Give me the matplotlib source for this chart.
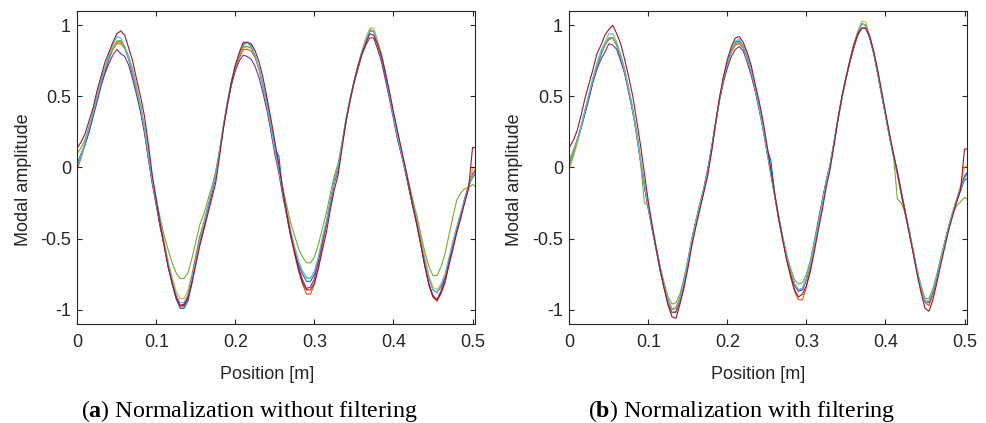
import matplotlib
matplotlib.use("Agg")
import matplotlib.pyplot as plt
import numpy as np

plt.rcParams['font.family'] = ['Liberation Sans', 'DejaVu Sans']
plt.rcParams['axes.unicode_minus'] = False
plt.rcParams['mathtext.fontset'] = 'custom'
plt.rcParams['mathtext.rm'] = 'Liberation Serif'
plt.rcParams['mathtext.bf'] = 'Liberation Serif:bold'

# ---------------- data ----------------
position = [
    0.000, 0.005, 0.010, 0.015, 0.020, 0.025, 0.030, 0.035, 0.040, 0.045,
    0.050, 0.055, 0.060, 0.065, 0.070, 0.075, 0.080, 0.085, 0.090, 0.095,
    0.100, 0.105, 0.110, 0.115, 0.120, 0.125, 0.130, 0.135, 0.140, 0.145,
    0.150, 0.155, 0.160, 0.165, 0.170, 0.175, 0.180, 0.185, 0.190, 0.195,
    0.200, 0.205, 0.210, 0.215, 0.220, 0.225, 0.230, 0.235, 0.240, 0.245,
    0.250, 0.255, 0.260, 0.265, 0.270, 0.275, 0.280, 0.285, 0.290, 0.295,
    0.300, 0.305, 0.310, 0.315, 0.320, 0.325, 0.330, 0.335, 0.340, 0.345,
    0.350, 0.355, 0.360, 0.365, 0.370, 0.375, 0.380, 0.385, 0.390, 0.395,
    0.400, 0.405, 0.410, 0.415, 0.420, 0.425, 0.430, 0.435, 0.440, 0.445,
    0.450, 0.455, 0.460, 0.465, 0.470, 0.475, 0.480, 0.485, 0.490, 0.495,
    0.500, 0.503]

# bundle centre, panel (a)
mean_a = [
    0.04, 0.10, 0.18, 0.28, 0.38, 0.49, 0.60, 0.69, 0.77, 0.83,
    0.88, 0.88, 0.84, 0.77, 0.67, 0.55, 0.42, 0.27, 0.08, -0.10,
    -0.25, -0.40, -0.54, -0.68, -0.80, -0.90, -0.96, -0.96, -0.90, -0.78,
    -0.64, -0.50, -0.40, -0.28, -0.17, -0.05, 0.12, 0.30, 0.46, 0.60,
    0.71, 0.79, 0.85, 0.86, 0.84, 0.78, 0.69, 0.57, 0.44, 0.28,
    0.12, -0.02, -0.18, -0.33, -0.47, -0.59, -0.70, -0.78, -0.84, -0.84,
    -0.78, -0.67, -0.53, -0.40, -0.25, -0.10, 0.00, 0.17, 0.34, 0.48,
    0.60, 0.71, 0.81, 0.89, 0.95, 0.94, 0.86, 0.77, 0.64, 0.50,
    0.36, 0.22, 0.10, -0.02, -0.15, -0.28, -0.40, -0.54, -0.68, -0.80,
    -0.88, -0.91, -0.86, -0.78, -0.66, -0.54, -0.43, -0.33, -0.23, -0.14,
    -0.07, -0.05]

# bundle centre, panel (b)
mean_b = [
    0.03, 0.10, 0.19, 0.29, 0.40, 0.51, 0.62, 0.72, 0.80, 0.86,
    0.91, 0.91, 0.86, 0.78, 0.68, 0.55, 0.41, 0.25, 0.06, -0.12,
    -0.28, -0.43, -0.57, -0.71, -0.83, -0.94, -1.00, -0.99, -0.92, -0.80,
    -0.66, -0.51, -0.39, -0.27, -0.16, -0.03, 0.13, 0.31, 0.48, 0.62,
    0.73, 0.82, 0.87, 0.88, 0.85, 0.78, 0.68, 0.56, 0.43, 0.28,
    0.12, -0.04, -0.20, -0.36, -0.50, -0.63, -0.74, -0.83, -0.87, -0.86,
    -0.79, -0.68, -0.54, -0.40, -0.25, -0.10, 0.02, 0.18, 0.35, 0.50,
    0.63, 0.75, 0.86, 0.95, 1.01, 1.00, 0.92, 0.81, 0.67, 0.52,
    0.37, 0.22, 0.09, -0.04, -0.18, -0.32, -0.45, -0.59, -0.73, -0.85,
    -0.94, -0.95, -0.88, -0.77, -0.65, -0.53, -0.42, -0.32, -0.23, -0.15,
    -0.08, -0.05]

# per-measurement deviation from the bundle centre, in hundredths
blue_a = [
    -1, 0, -2, -3, -2, -1, -1, -2, -1, 0,
    0, 1, 0, -1, -2, -1, -2, -1, -2, -1,
    -1, -2, -1, -2, -2, -2, -3, -3, -4, -3,
    -3, -2, -3, -2, -2, -1, -2, -1, 0, -1,
    0, 0, 1, 2, 1, 0, 0, -1, 0, -1,
    1, 10, 1, 1, 2, 1, 2, 3, 4, 4,
    3, 2, 1, 0, -1, -1, -2, -1, -2, -1,
    0, -1, 0, 0, 1, 2, 1, 0, -1, -1,
    0, -1, 0, 1, 1, 2, 2, 1, 2, 2,
    2, 3, 2, 1, 0, -1, -2, -1, 0, 1,
    2, 3]
orange_a = [
    -5, -3, -1, 0, 1, 0, 1, 0, 0, 0,
    -1, -1, 0, 1, 2, 2, 1, 2, 3, 1,
    0, -1, -1, -1, -1, -1, -2, -2, -2, -3,
    -2, -2, -1, -1, 0, 1, 0, -1, -1, -1,
    -1, -2, -2, -3, -2, -1, 0, 1, 1, 2,
    1, 0, -1, -1, -2, -2, -3, -4, -5, -5,
    -4, -3, -2, -1, 0, 0, -1, -1, 0, 0,
    0, 0, 0, 1, 1, 2, 2, 2, 1, 1,
    1, 0, 0, -1, -1, -1, -2, -2, -2, -3,
    -3, -3, -3, -3, -2, -1, -1, 0, 0, 1,
    3, 2]
yellow_a = [
    -3, -2, -1, 0, 1, 1, 1, 1, 1, 0,
    0, 0, 1, 1, 1, 2, 2, 2, 1, 1,
    1, 1, 2, 2, 3, 3, 4, 4, 4, 3,
    3, 2, 2, 1, 1, 1, 0, 0, 0, 0,
    0, 0, -1, -1, 0, 0, 1, 1, 1, 2,
    1, 1, 1, 2, 2, 3, 4, 5, 6, 6,
    5, 4, 3, 2, 2, 1, 1, 0, 0, 0,
    0, 1, 1, 2, 3, 4, 3, 2, 2, 1,
    1, 1, 1, 1, 1, 2, 3, 3, 4, 4,
    4, 5, 4, 3, 2, 2, 1, 1, 1, 2,
    6, 4]
purple_a = [
    -2, -1, -1, -2, -2, -3, -3, -3, -4, -4,
    -5, -8, -6, -5, -5, -4, -3, -3, -2, -2,
    -2, -2, -1, -1, 0, 0, -1, -1, 0, 1,
    1, 1, 0, 0, -1, -1, -1, -1, -2, -2,
    -3, -4, -6, -8, -8, -7, -6, -5, -4, -3,
    -3, -2, -2, -1, -1, 0, 0, -1, -1, 0,
    0, 1, 1, 1, 0, 0, 0, 0, -1, -1,
    -1, -2, -2, -3, -4, -3, -3, -3, -3, -2,
    -2, -2, -1, -1, -1, -1, -1, -1, -2, -2,
    -2, -2, -1, 0, 0, 0, 0, 0, 1, 1,
    0, 0]
green_a = [
    6, 4, 2, 1, 0, 0, 0, 1, 1, 1,
    1, 1, 1, 0, 0, 0, 1, 0, 0, 2,
    3, 4, 6, 10, 13, 16, 18, 18, 16, 14,
    12, 10, 7, 5, 3, 2, 0, 0, 0, 0,
    0, 0, 0, -1, 0, 0, 0, 1, 1, 1,
    2, 3, 4, 6, 8, 11, 13, 15, 17, 17,
    15, 13, 10, 8, 6, 4, 3, 1, 0, 0,
    0, 0, 0, 0, 1, 2, 2, 2, 2, 2,
    2, 2, 2, 2, 3, 4, 5, 6, 8, 10,
    12, 15, 16, 17, 18, 19, 20, 15, 8, 0,
    -5, -8]
lightblue_a = [
    -2, -1, 0, 0, 1, 1, 1, 1, 2, 3,
    4, 3, 1, 0, 0, 0, 0, 1, 1, 0,
    0, 0, 0, 1, 1, 1, 1, 1, 1, 0,
    0, 0, 0, 0, 0, -1, -1, 0, 0, 1,
    1, 1, 2, 2, 2, 1, 0, 0, 0, 0,
    0, 0, 1, 1, 2, 3, 4, 5, 7, 6,
    5, 4, 3, 2, 1, 0, 0, 0, 0, 0,
    0, 0, 0, 1, 2, 2, 1, 1, 1, 0,
    0, 0, 0, 0, 1, 1, 1, 1, 2, 2,
    2, 3, 3, 2, 2, 1, 1, 1, 0, 0,
    1, 1]
darkred_a = [
    10, 8, 6, 5, 4, 5, 4, 5, 4, 5,
    6, 8, 9, 7, 8, 7, 8, 9, 8, 4,
    2, 0, -1, -2, -1, -2, -1, 0, -2, -3,
    -4, -5, -4, -5, -5, -6, -4, -2, -1, 0,
    1, 2, 3, 2, 3, 4, 5, 6, 5, 6,
    6, 4, 2, 1, 0, -1, -2, -3, -2, -2,
    -3, -4, -5, -6, -5, -6, -5, -3, -1, -1,
    0, 0, -1, -2, -1, -1, 0, 1, 2, 3,
    3, 4, 3, 2, 1, 0, -1, -1, -2, -3,
    -3, -2, -2, -3, -3, -4, -3, -3, -2, -1,
    21, 19]

blue_b = [
    0, 1, 0, -1, -2, -2, -1, -1, -1, 0,
    -1, 0, 0, -1, -1, -1, -1, -1, -1, -1,
    -1, -1, -1, -2, -2, -2, -2, -3, -2, -2,
    -2, -2, -1, -1, -1, 0, -1, -1, 0, 0,
    0, 0, 1, 1, 0, 0, 0, -1, 0, 0,
    1, 9, 1, 1, 1, 1, 1, 1, 1, 1,
    1, 1, 0, 0, 0, -1, -1, -1, -1, 0,
    0, 0, 0, 0, 0, 0, 0, 0, -1, -1,
    0, 0, 0, 0, 0, 0, 0, 0, 0, 0,
    0, 1, 1, 1, 0, 0, 0, 0, -1, -1,
    -1, -3]
orange_b = [
    -3, -2, -1, 0, 0, 0, 0, 0, 1, 0,
    0, 0, 0, 1, 1, 1, 1, 1, 1, 0,
    0, -1, -1, -1, -1, -1, -2, -2, -2, -1,
    -1, -1, -1, 0, 0, 0, 0, 0, 0, 0,
    0, -1, -1, -1, -1, 0, 0, 0, 1, 1,
    1, 0, -1, -1, -1, -2, -3, -4, -6, -7,
    -5, -3, -2, -1, 0, 0, 0, 0, 0, 0,
    0, 0, 0, 0, 0, 0, 0, 0, 0, 0,
    0, 0, -1, -1, -1, -1, -1, -1, -1, -1,
    -1, -2, -2, -1, -1, 0, 0, 0, 0, 0,
    1, 1]
yellow_b = [
    -4, -3, -2, -1, 0, 0, 1, 1, 1, 0,
    0, 0, 1, 1, 1, 1, 1, 1, 1, 1,
    1, 1, 1, 1, 1, 1, 1, 1, 1, 1,
    1, 1, 0, 0, 0, 0, 0, 0, 0, 0,
    0, 0, 0, 0, 0, 1, 1, 1, 1, 1,
    1, 1, 1, 1, 1, 1, 1, 1, 1, 0,
    0, 0, 0, 0, 0, 0, 0, 0, 0, 0,
    0, 1, 1, 1, 2, 2, 1, 1, 1, 1,
    1, 1, 1, 1, 1, 1, 1, 1, 0, 0,
    0, 0, 0, 0, 0, 0, 1, 1, 1, 2,
    9, 6]
purple_b = [
    0, 0, 0, -1, -1, -2, -2, -3, -4, -5,
    -4, -5, -3, -3, -2, -2, -1, -1, -1, -1,
    -1, 0, 0, 0, 0, 0, 0, 0, 0, 0,
    0, 0, 1, 1, 1, 2, 1, 0, -1, -2,
    -3, -4, -4, -3, -3, -4, -3, -2, -2, -1,
    -1, -1, 0, 0, 0, 0, 0, 0, 0, 0,
    0, 1, 2, 3, 2, 1, 0, 0, -1, -1,
    -1, -1, -2, -2, -3, -2, -1, -1, 0, 0,
    0, 0, 0, 1, 1, 1, 0, 0, 0, 0,
    0, 0, 0, 0, 0, 0, 0, 0, 0, 1,
    2, 1]
green_b = [
    2, 2, 1, 0, 0, 0, 0, 0, 0, 0,
    0, 0, 0, 0, 0, 0, 0, -1, -2, -13,
    1, 1, 1, 1, 2, 3, 4, 4, 3, 2,
    1, 1, 1, 1, 0, 0, 0, 0, 0, 0,
    0, 0, 0, 0, 0, 0, 0, 0, 0, 0,
    0, 0, 0, 1, 1, 2, 3, 4, 5, 5,
    4, 3, 2, 1, 0, 0, 0, 0, 0, 0,
    0, 0, 0, 0, 0, 0, 0, 0, 0, 0,
    0, 0, 0, -18, -7, 0, 1, 1, 1, 2,
    2, 3, 3, 2, 2, 1, 1, 0, -4, -9,
    -13, -17]
lightblue_b = [
    -1, 0, 0, 0, 1, 1, 1, 1, 2, 2,
    3, 3, 2, 1, 0, 0, 0, 0, 0, 0,
    0, 0, 0, 0, 0, 0, 0, 0, 0, 0,
    0, 0, 0, 0, 0, 0, 0, 0, 0, 1,
    1, 1, 2, 2, 1, 1, 0, 0, 0, 0,
    0, 0, 0, 0, 0, 1, 1, 1, 1, 1,
    1, 1, 0, 0, 0, 0, 0, 0, -1, -2,
    -1, 0, 0, 0, 0, 0, 0, 0, 0, 0,
    0, 0, 0, 0, 0, 0, 0, 0, 0, 0,
    0, 1, 1, 1, 0, 0, 0, 0, 0, 0,
    0, 0]
darkred_b = [
    11, 9, 7, 8, 9, 8, 7, 8, 6, 7,
    6, 9, 8, 9, 8, 9, 10, 9, 10, 8,
    4, 2, 0, -1, -2, -3, -5, -7, -4, -5,
    -5, -4, -3, -3, -2, -3, -2, 0, 1, 2,
    3, 3, 4, 4, 3, 3, 4, 3, 4, 5,
    4, 3, 1, 0, -1, -2, -2, -3, -4, -3,
    -4, -5, -5, -4, -5, -4, -3, -2, -1, 0,
    0, 0, 0, -1, -3, -2, 0, 1, 2, 2,
    2, 2, 1, 1, 0, 0, -1, -1, -2, -3,
    -5, -6, -5, -4, -3, -3, -2, -2, -1, -1,
    21, 18]

series_colors = ['#0072BD', '#D95319', '#EDB120', '#7E2F8E',
                 '#77AC30', '#4DBEEE', '#A2142F']
devs_a = [blue_a, orange_a, yellow_a, purple_a, green_a, lightblue_a, darkred_a]
devs_b = [blue_b, orange_b, yellow_b, purple_b, green_b, lightblue_b, darkred_b]

x_ticks = [0, 0.1, 0.2, 0.3, 0.4, 0.5]
x_tick_labels = ['0', '0.1', '0.2', '0.3', '0.4', '0.5']
y_ticks = [-1, -0.5, 0, 0.5, 1]
y_tick_labels = ['-1', '-0.5', '0', '0.5', '1']
x_label = 'Position [m]'
y_label = 'Modal amplitude'
captions = [r'($\mathbf{a}$) Normalization without filtering',
            r'($\mathbf{b}$) Normalization with filtering']

# ---------------- figure ----------------
W, H = 986, 423
fig = plt.figure(figsize=(W / 100, H / 100), dpi=100)
dark = '#262626'

panels = [
    dict(left=77.3, mean=mean_a, devs=devs_a, xlab=267.0, ylab=23.3, cap=249.5),
    dict(left=569.3, mean=mean_b, devs=devs_b, xlab=758.3, ylab=514.8, cap=741.3),
]
ax_w, ax_top, ax_bot = 398.0, 11.0, 324.0

for p, caption in zip(panels, captions):
    ax = fig.add_axes([p['left'] / W, 1 - ax_bot / H, ax_w / W, (ax_bot - ax_top) / H])
    base = np.array(p['mean'])
    for dev, col in zip(p['devs'], series_colors):
        ax.plot(position, base + np.array(dev) / 100.0, color=col, lw=0.8)
    ax.set_xlim(0, 0.5035)
    ax.set_ylim(-1.1, 1.1)
    ax.set_xticks(x_ticks)
    ax.set_xticklabels(x_tick_labels)
    ax.set_yticks(y_ticks)
    ax.set_yticklabels(y_tick_labels)
    ax.tick_params(direction='in', length=3.5, width=0.8, top=True, right=True,
                   labelsize=13, colors=dark, labelcolor=dark)
    ax.tick_params(axis='x', pad=7)
    ax.tick_params(axis='y', pad=4.5)
    for s in ax.spines.values():
        s.set_color(dark)
        s.set_linewidth(0.8)
    fig.text(p['xlab'] / W, 1 - 379.3 / H, x_label, ha='center', va='baseline',
             fontsize=13, color=dark)
    fig.text(p['ylab'] / W, 1 - 180.0 / H, y_label, ha='center', va='center',
             rotation=90, fontsize=13, color=dark)
    fig.text(p['cap'] / W, 1 - 416.7 / H, caption, ha='center', va='baseline',
             fontsize=17.3, family='Liberation Serif', color='black')

fig.savefig('out.png', dpi=100)
